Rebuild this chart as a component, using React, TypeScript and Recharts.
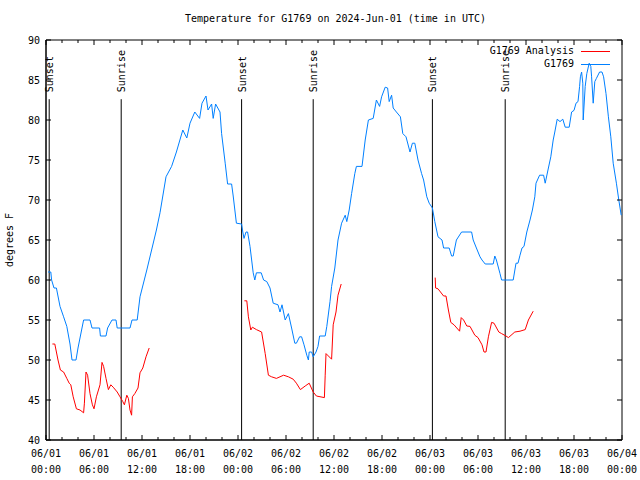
import { LineChart, Line, XAxis, YAxis, ReferenceLine, ReferenceArea } from "recharts";

const title = "Temperature for G1769 on 2024-Jun-01 (time in UTC)";

// hours since 06/01 00:00 UTC
const obsHours = [
  0.25, 0.6, 0.7, 1.0, 1.3, 1.75, 2.2, 2.6, 3.0, 3.25, 3.75, 4.0, 4.3, 4.7, 5.5, 5.75, 6.7, 6.8, 7.5, 7.7,
  8.25, 8.75, 8.9, 10.5, 10.75, 11.4, 11.75, 12.6, 13.2, 13.5, 13.8, 14.25, 15.0, 15.7, 16.3, 17.1, 17.6, 18.0,
  18.6, 19.2, 19.5, 20.0, 20.25, 20.7, 20.9, 21.2, 21.75, 21.95, 22.4, 22.7, 23.2, 23.4, 23.8, 24.45, 24.6,
  24.75, 25.0, 25.2, 25.5, 25.9, 26.1, 26.3, 26.9, 27.2, 27.6, 28.0, 28.4, 29.0, 29.25, 29.5, 29.9, 30.3,
  30.7, 31.1, 31.3, 31.7, 31.95, 32.25, 32.6, 32.8, 32.9, 33.2, 33.4, 33.75, 34.0, 34.2, 34.9, 35.1, 35.5,
  35.7, 36.1, 36.5, 36.95, 37.4, 37.6, 37.9, 38.2, 38.6, 38.8, 39.5, 39.9, 40.3, 40.9, 41.3, 41.7, 41.95,
  42.4, 42.7, 42.9, 43.2, 43.4, 43.8, 44.3, 44.6, 45.0, 45.5, 45.8, 46.1, 46.5, 46.95, 47.2, 47.6, 47.9,
  48.3, 48.6, 49.0, 49.5, 49.7, 50.4, 50.7, 50.9, 51.3, 51.95, 53.2, 53.4, 53.8, 54.25, 54.5, 54.9, 55.9,
  56.1, 56.3, 56.75, 56.95, 58.4, 58.75, 59.0, 59.25, 59.5, 59.75, 60.1, 60.5, 60.8, 61.1, 61.25, 61.7,
  62.2, 62.4, 62.8, 63.1, 63.4, 63.6, 63.9, 64.25, 64.6, 64.9, 65.4, 65.7, 66.0, 66.25, 66.5, 66.7, 66.8,
  66.95, 67.1, 67.15, 67.4, 67.6, 67.9, 68.1, 68.2, 68.4, 68.6, 68.8, 69.2, 69.5, 69.7, 70.0, 70.3, 70.6,
  70.9, 71.3, 71.6, 71.9,
];
const obsTemps = [
  61, 61, 60, 59, 59, 56.7, 55.4, 54.2, 52, 50, 50, 51.5, 53, 55, 55, 54, 54, 53, 53, 54,
  55, 55, 54, 54, 55, 55, 57.9, 61.25, 63.75, 65, 66.25, 68.4, 72.9, 74.2, 76, 78.75, 77.75, 79.6,
  81, 80.2, 82.1, 83, 81.25, 82, 80.2, 82, 81, 78.3, 74.6, 72, 72, 70.5, 67.1, 67, 66,
  65.2, 66, 66, 64.2, 60.9, 60, 60.9, 60.9, 60, 59.8, 59, 57.1, 56.9, 56, 56.9, 55, 55.8,
  54, 52.1, 52.1, 52.9, 52.9, 51.9, 50.6, 50, 51, 51, 50.4, 51, 51.7, 53, 53, 54.2, 57.3,
  59.2, 61.5, 65, 67.1, 68.1, 67.3, 68.75, 70.8, 73.3, 74.2, 74.2, 77.5, 80, 80.2, 82.5, 81.7, 82.9,
  84.1, 84, 82.3, 83.1, 81.5, 81, 80.4, 78.3, 77.9, 76, 77.1, 77.1, 75, 73.3, 72.5, 70.4, 69.6,
  69, 67.3, 65.4, 65, 64, 64, 63, 63, 65, 66, 66, 65, 64, 62.9, 62.5, 62, 62,
  63, 62.5, 60.8, 60, 60, 62.1, 62.1, 63.1, 64, 64.2, 66, 67.5, 68.75, 70.4, 72.1, 73.1,
  73.1, 72.1, 74, 75.4, 77.5, 78.5, 80.1, 79.8, 80.1, 79.1, 79.1, 81, 81.2, 82.1, 82.3, 84.2, 85.4,
  86, 84.6, 80, 84.2, 85.8, 87.1, 86.7, 85.4, 82.1, 84.8, 85.2, 86, 86, 85.4, 83.3, 80.4, 77.9,
  74.6, 72.1, 70, 68.1,
];

// analysis runs; null breaks the line between runs
const anaHours = [
  0.8, 1.1, 1.5, 1.8, 2.2, 2.6, 2.9, 3.1, 3.4, 3.8, 4.25, 4.7, 4.8, 5.0, 5.2, 5.5, 5.8, 6.0, 6.3, 6.75,
  7.0, 7.2, 7.5, 7.8, 8.1, 8.4, 8.9, 9.25, 9.6, 9.8, 10.1, 10.3, 10.5, 10.7, 10.8, 11.1, 11.5, 11.75,
  12.1, 12.5, 12.9, 18,
  24.8, 25.1, 25.3, 25.6, 25.8, 26.3, 26.95, 27.4, 27.8, 28.2, 28.8, 29.7, 30.3, 30.9, 31.3, 31.8, 32.4,
  32.9, 33.4, 33.8, 34.8, 34.9, 35.0, 35.7, 35.9, 36.25, 36.5, 36.9, 42,
  48.65, 48.7, 49.0, 49.7, 50.0, 50.3, 50.6, 51.0, 51.7, 51.9, 52.2, 52.6, 53.0, 53.6, 54.0, 54.5, 54.75,
  55.0, 55.3, 55.7, 56.0, 56.6, 56.95, 57.5, 57.8, 58.6, 59.25, 59.9, 60.3, 60.9,
];
const anaTemps = [
  52, 52, 50, 48.75, 48.5, 47.7, 47.1, 46.9, 45.4, 43.9, 43.75, 43.4, 44.6, 48.5, 48.1, 45.8, 44.4, 43.9, 45.4, 46.9,
  49.7, 49.2, 47.7, 46.3, 46.9, 46.6, 46, 45.4, 44.8, 44.4, 45.6, 45.2, 43.75, 43.1, 45.4, 45.8, 46.5, 48.4,
  49, 50.4, 51.5, null,
  57.4, 57.4, 55.4, 53.75, 54.1, 53.8, 53.5, 50.8, 48.1, 47.9, 47.7, 48.1, 47.9, 47.6, 47.1, 46.3, 46.75,
  47.1, 46, 45.5, 45.3, 48.1, 50.8, 50.1, 54.4, 56, 58.1, 59.5, null,
  60.3, 59, 58.9, 58, 58, 56.25, 54.7, 54.4, 53.6, 55.3, 55, 54.25, 54.2, 53.1, 52.8, 51.9, 51,
  51, 52.9, 54.7, 54.6, 53.5, 53.3, 53, 52.8, 53.5, 53.6, 53.8, 55, 56.1,
];

const sunNames = ["Sunset", "Sunrise", "Sunset", "Sunrise", "Sunset", "Sunrise"];
const sunHours = [0.4, 9.4, 24.45, 33.4, 48.3, 57.4];
const sunLineTop = 82.6;

const yTicks = [40, 45, 50, 55, 60, 65, 70, 75, 80, 85, 90];
const xTicks = [
  0, 2, 4, 6, 8, 10, 12, 14, 16, 18, 20, 22, 24, 26, 28, 30, 32, 34, 36,
  38, 40, 42, 44, 46, 48, 50, 52, 54, 56, 58, 60, 62, 64, 66, 68, 70, 72,
];
const dayLabels = ["06/01", "06/02", "06/03", "06/04"];
const hourLabels = ["00:00", "06:00", "12:00", "18:00"];

const seriesNames = ["G1769 Analysis", "G1769"];
const seriesColors = ["#ff0000", "#0080ff"];

const obsData = obsHours.map((h, i) => ({ h, v: obsTemps[i] }));
const anaData = anaHours.map((h, i) => ({ h, v: anaTemps[i] }));

const FONT = "'DejaVu Sans Mono', monospace";
const W = 640;
const H = 480;
const PLOT_LEFT = 46;
const PLOT_RIGHT = 622;
const PLOT_TOP = 40;
const PLOT_BOTTOM = 440;

const XTick = (props: any) => {
  const { x, payload } = props;
  const h = payload.value;
  const major = h % 6 === 0;
  const len = major ? 5 : 3;
  return (
    <g>
      <line x1={x} x2={x} y1={PLOT_BOTTOM} y2={PLOT_BOTTOM - len} stroke="#000" />
      <line x1={x} x2={x} y1={PLOT_TOP} y2={PLOT_TOP + len} stroke="#000" />
      {major && (
        <text x={x} y={PLOT_BOTTOM} textAnchor="middle" fontSize={10} fontFamily={FONT} fill="#000">
          <tspan x={x} dy={17}>{dayLabels[Math.floor(h / 24)]}</tspan>
          <tspan x={x} dy={16}>{hourLabels[(h % 24) / 6]}</tspan>
        </text>
      )}
    </g>
  );
};

const YTick = (props: any) => {
  const { x, y, payload } = props;
  return (
    <g>
      <line x1={PLOT_LEFT} x2={PLOT_LEFT + 5} y1={y} y2={y} stroke="#000" />
      <line x1={PLOT_RIGHT} x2={PLOT_RIGHT - 5} y1={y} y2={y} stroke="#000" />
      <text x={x} y={y} dy={4} textAnchor="end" fontSize={10} fontFamily={FONT} fill="#000">
        {payload.value}
      </text>
    </g>
  );
};

const sunLabel = (name: string) => (props: any) => {
  const { x, y } = props.viewBox;
  const bx = x + 4;
  const by = y - 7;
  return (
    <text x={bx} y={by} transform={`rotate(-90 ${bx} ${by})`} fontSize={10} fontFamily={FONT} fill="#000">
      {name}
    </text>
  );
};

const yLabel = (props: any) => {
  const { x, y, height } = props.viewBox;
  const lx = x + 13;
  const ly = y + height / 2;
  return (
    <text x={lx} y={ly} transform={`rotate(-90 ${lx} ${ly})`} textAnchor="middle" fontSize={10} fontFamily={FONT} fill="#000">
      degrees F
    </text>
  );
};

export default function App() {
  return (
    <div style={{ position: "absolute", left: 0, top: 0, width: W, height: H, background: "#fff" }}>
      <div style={{ position: "absolute", left: 0, top: 13, width: 671, textAlign: "center", fontFamily: FONT, fontSize: 10, lineHeight: "12px" }}>
        {title}
      </div>
      <div style={{ position: "absolute", top: 44, left: 380, width: 230, fontFamily: FONT, fontSize: 10, lineHeight: "13px", textAlign: "right", zIndex: 2 }}>
        {seriesNames.map((name, i) => (
          <div key={name} style={{ whiteSpace: "nowrap" }}>
            <span>{name}</span>
            <span style={{ display: "inline-block", width: 29, marginLeft: 7, verticalAlign: "middle", borderTop: `1px solid ${seriesColors[i]}` }} />
          </div>
        ))}
      </div>
      <LineChart width={W} height={H} margin={{ top: PLOT_TOP, right: W - PLOT_RIGHT, bottom: 0, left: 0 }}>
        <XAxis
          dataKey="h"
          type="number"
          domain={[0, 72]}
          ticks={xTicks}
          interval={0}
          height={H - PLOT_BOTTOM}
          tickSize={0}
          tickMargin={0}
          tickLine={false}
          axisLine={{ stroke: "#000" }}
          tick={XTick}
        />
        <YAxis
          type="number"
          domain={[40, 90]}
          ticks={yTicks}
          interval={0}
          width={PLOT_LEFT}
          tickSize={0}
          tickMargin={6}
          tickLine={false}
          axisLine={{ stroke: "#000" }}
          tick={YTick}
          label={yLabel}
        />
        <ReferenceArea x1={0} x2={72} y1={40} y2={90} fill="none" stroke="#000" fillOpacity={0} />
        {sunHours.map((t, i) => (
          <ReferenceLine
            key={i}
            segment={[{ x: t, y: 40 }, { x: t, y: sunLineTop }]}
            stroke="#000"
            strokeWidth={1}
            label={sunLabel(sunNames[i])}
          />
        ))}
        <Line
          data={anaData}
          dataKey="v"
          name={seriesNames[0]}
          stroke={seriesColors[0]}
          strokeWidth={1}
          dot={false}
          activeDot={false}
          connectNulls={false}
          isAnimationActive={false}
        />
        <Line
          data={obsData}
          dataKey="v"
          name={seriesNames[1]}
          stroke={seriesColors[1]}
          strokeWidth={1}
          dot={false}
          activeDot={false}
          isAnimationActive={false}
        />
      </LineChart>
    </div>
  );
}
